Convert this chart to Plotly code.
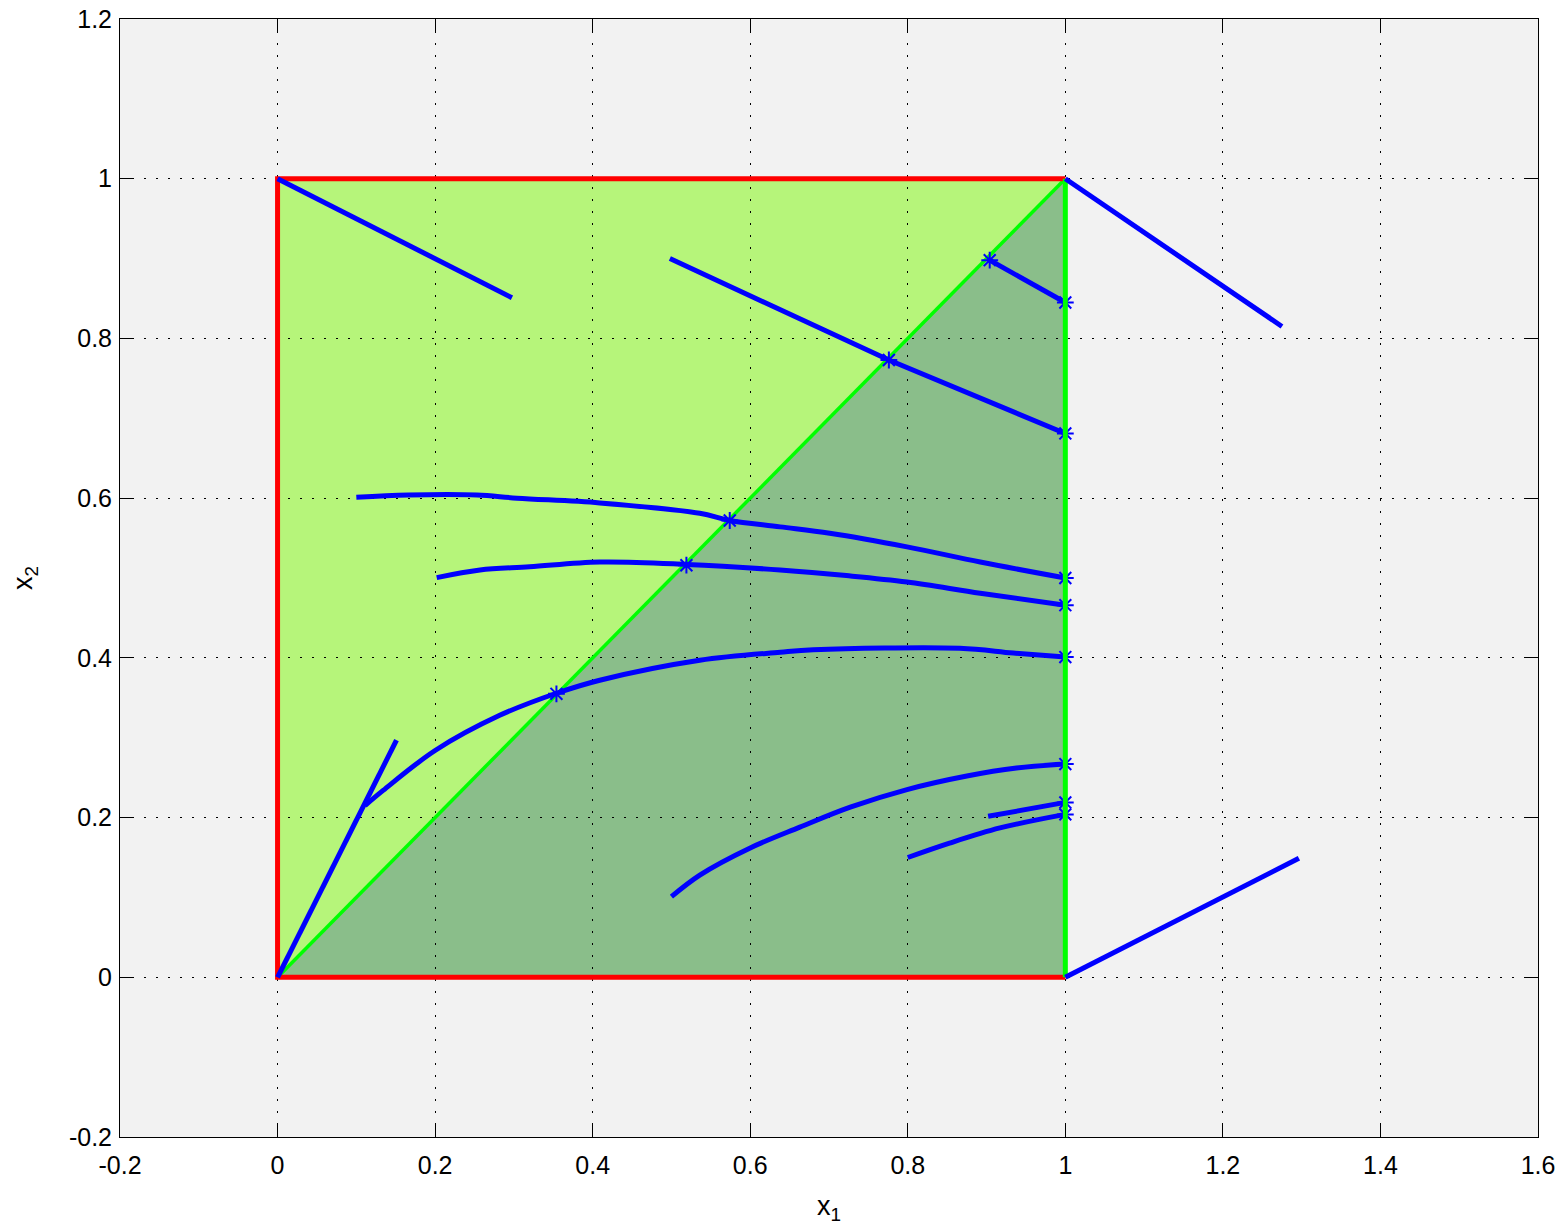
import plotly.graph_objects as go

# ---- data ----
upper_region_x = [0, 1, 0]
upper_region_y = [0, 1, 1]
lower_region_x = [0, 1, 1]
lower_region_y = [0, 0, 1]

red_box_x = [1, 0, 0, 1]
red_box_y = [0, 0, 1, 1]
diag_x = [0, 1]
diag_y = [0, 1]
right_x = [1, 1]
right_y = [0, 1]

curve_a_x = [0, 0.2975]
curve_a_y = [1, 0.851]
curve_b_x = [0.498, 0.776, 1.0]
curve_b_y = [0.900, 0.773, 0.681]
curve_b2_x = [0.904, 1.0]
curve_b2_y = [0.898, 0.845]
curve_c_x = [0.100, 0.166, 0.253, 0.304, 0.409, 0.536, 0.574, 0.638, 0.701, 0.799, 0.892, 1.0]
curve_c_y = [0.601, 0.604, 0.604, 0.600, 0.594, 0.581, 0.572, 0.564, 0.556, 0.539, 0.520, 0.500]
curve_d_x = [0.202, 0.257, 0.320, 0.409, 0.519, 0.638, 0.722, 0.799, 0.892, 1.0]
curve_d_y = [0.5005, 0.510, 0.514, 0.520, 0.517, 0.510, 0.503, 0.495, 0.481, 0.466]
curve_e_x = [0.111, 0.134, 0.200, 0.282, 0.355, 0.409, 0.536, 0.638, 0.680, 0.866, 0.934, 1.0]
curve_e_y = [0.215, 0.234, 0.284, 0.328, 0.356, 0.372, 0.397, 0.407, 0.410, 0.412, 0.406, 0.401]
curve_f_x = [0, 0.151]
curve_f_y = [0, 0.297]
curve_g_x = [0.500, 0.536, 0.600, 0.663, 0.727, 0.799, 0.875, 0.938, 1.0]
curve_g_y = [0.101, 0.128, 0.162, 0.188, 0.213, 0.235, 0.252, 0.262, 0.267]
curve_h_x = [0.800, 0.853, 0.917, 1.0]
curve_h_y = [0.150, 0.168, 0.187, 0.204]
curve_i_x = [0.902, 1.0]
curve_i_y = [0.2016, 0.219]
curve_r1_x = [1, 1.275]
curve_r1_y = [1, 0.815]
curve_r2_x = [1, 1.2965]
curve_r2_y = [0, 0.149]

diag_star_x = [0.904, 0.776, 0.574, 0.519, 0.354]
diag_star_y = [0.898, 0.773, 0.572, 0.516, 0.355]
end_star_x = [1, 1, 1, 1, 1, 1, 1, 1]
end_star_y = [0.845, 0.681, 0.500, 0.466, 0.401, 0.267, 0.219, 0.204]

x_tick_vals = [-0.2, 0, 0.2, 0.4, 0.6, 0.8, 1, 1.2, 1.4, 1.6]
x_tick_text = ["-0.2", "0", "0.2", "0.4", "0.6", "0.8", "1", "1.2", "1.4", "1.6"]
y_tick_vals = [-0.2, 0, 0.2, 0.4, 0.6, 0.8, 1, 1.2]
y_tick_text = ["-0.2", "0", "0.2", "0.4", "0.6", "0.8", "1", "1.2"]

BLUE = "#0000FF"
RED = "#FF0000"
GREEN = "#00FF00"
LIGHT = "#B6F57A"
DARK = "#8ABE8A"


def path_of(xs, ys):
    parts = [("M" if i == 0 else "L") + f"{x},{y}" for i, (x, y) in enumerate(zip(xs, ys))]
    return " ".join(parts) + " Z"


fig = go.Figure()


def line(xs, ys, color, width, smooth=False):
    ln = dict(color=color, width=width)
    if smooth:
        ln.update(shape="spline", smoothing=1.0)
    fig.add_trace(go.Scatter(x=xs, y=ys, mode="lines", line=ln,
                             showlegend=False, hoverinfo="skip"))


line(diag_x, diag_y, GREEN, 3.5)
line(red_box_x, red_box_y, RED, 5)

for cx, cy in [(curve_a_x, curve_a_y), (curve_b_x, curve_b_y), (curve_b2_x, curve_b2_y),
               (curve_c_x, curve_c_y), (curve_d_x, curve_d_y), (curve_e_x, curve_e_y),
               (curve_f_x, curve_f_y), (curve_g_x, curve_g_y), (curve_h_x, curve_h_y),
               (curve_i_x, curve_i_y)]:
    line(cx, cy, BLUE, 5, smooth=len(cx) > 3)

for sx, sy in [(diag_star_x, diag_star_y), (end_star_x, end_star_y)]:
    fig.add_trace(go.Scatter(x=sx, y=sy, mode="markers",
                             marker=dict(symbol="asterisk-open", size=14, color=BLUE,
                                         line=dict(color=BLUE, width=2)),
                             showlegend=False, hoverinfo="skip"))

line(right_x, right_y, GREEN, 5)
line(curve_r1_x, curve_r1_y, BLUE, 5)
line(curve_r2_x, curve_r2_y, BLUE, 5)

fig.add_shape(type="path", path=path_of(upper_region_x, upper_region_y),
              xref="x", yref="y", fillcolor=LIGHT, line=dict(width=0), layer="below")
fig.add_shape(type="path", path=path_of(lower_region_x, lower_region_y),
              xref="x", yref="y", fillcolor=DARK, line=dict(width=0), layer="below")

axis_common = dict(
    showline=True, linecolor="black", linewidth=1, mirror="ticks",
    ticks="inside", ticklen=13, tickwidth=1, tickcolor="black",
    showgrid=True, gridcolor="black", gridwidth=1, griddash="2px,10px",
    zeroline=False, automargin=False, ticklabeloverflow="allow",
    tickfont=dict(family="Liberation Sans", size=25, color="black"),
)

fig.update_xaxes(range=[-0.2, 1.6], tickvals=x_tick_vals, ticktext=x_tick_text,
                 ticklabelstandoff=6,
                 title=dict(text="x<sub>1</sub>", font=dict(family="Liberation Sans", size=27, color="black"),
                            standoff=20),
                 **axis_common)
fig.update_yaxes(range=[-0.2, 1.2], tickvals=y_tick_vals, ticktext=y_tick_text,
                 ticklabelstandoff=2,
                 title=dict(text="x<sub>2</sub>", font=dict(family="Liberation Sans", size=27, color="black"),
                            standoff=40),
                 **axis_common)

# the page body adds an 8px offset at top/left, so the figure is sized to compensate
fig.update_layout(
    width=1556, height=1217,
    margin=dict(l=112, r=26, t=11, b=88),
    paper_bgcolor="white", plot_bgcolor="#F2F2F2",
    showlegend=False,
)

fig.write_html("out.html")
